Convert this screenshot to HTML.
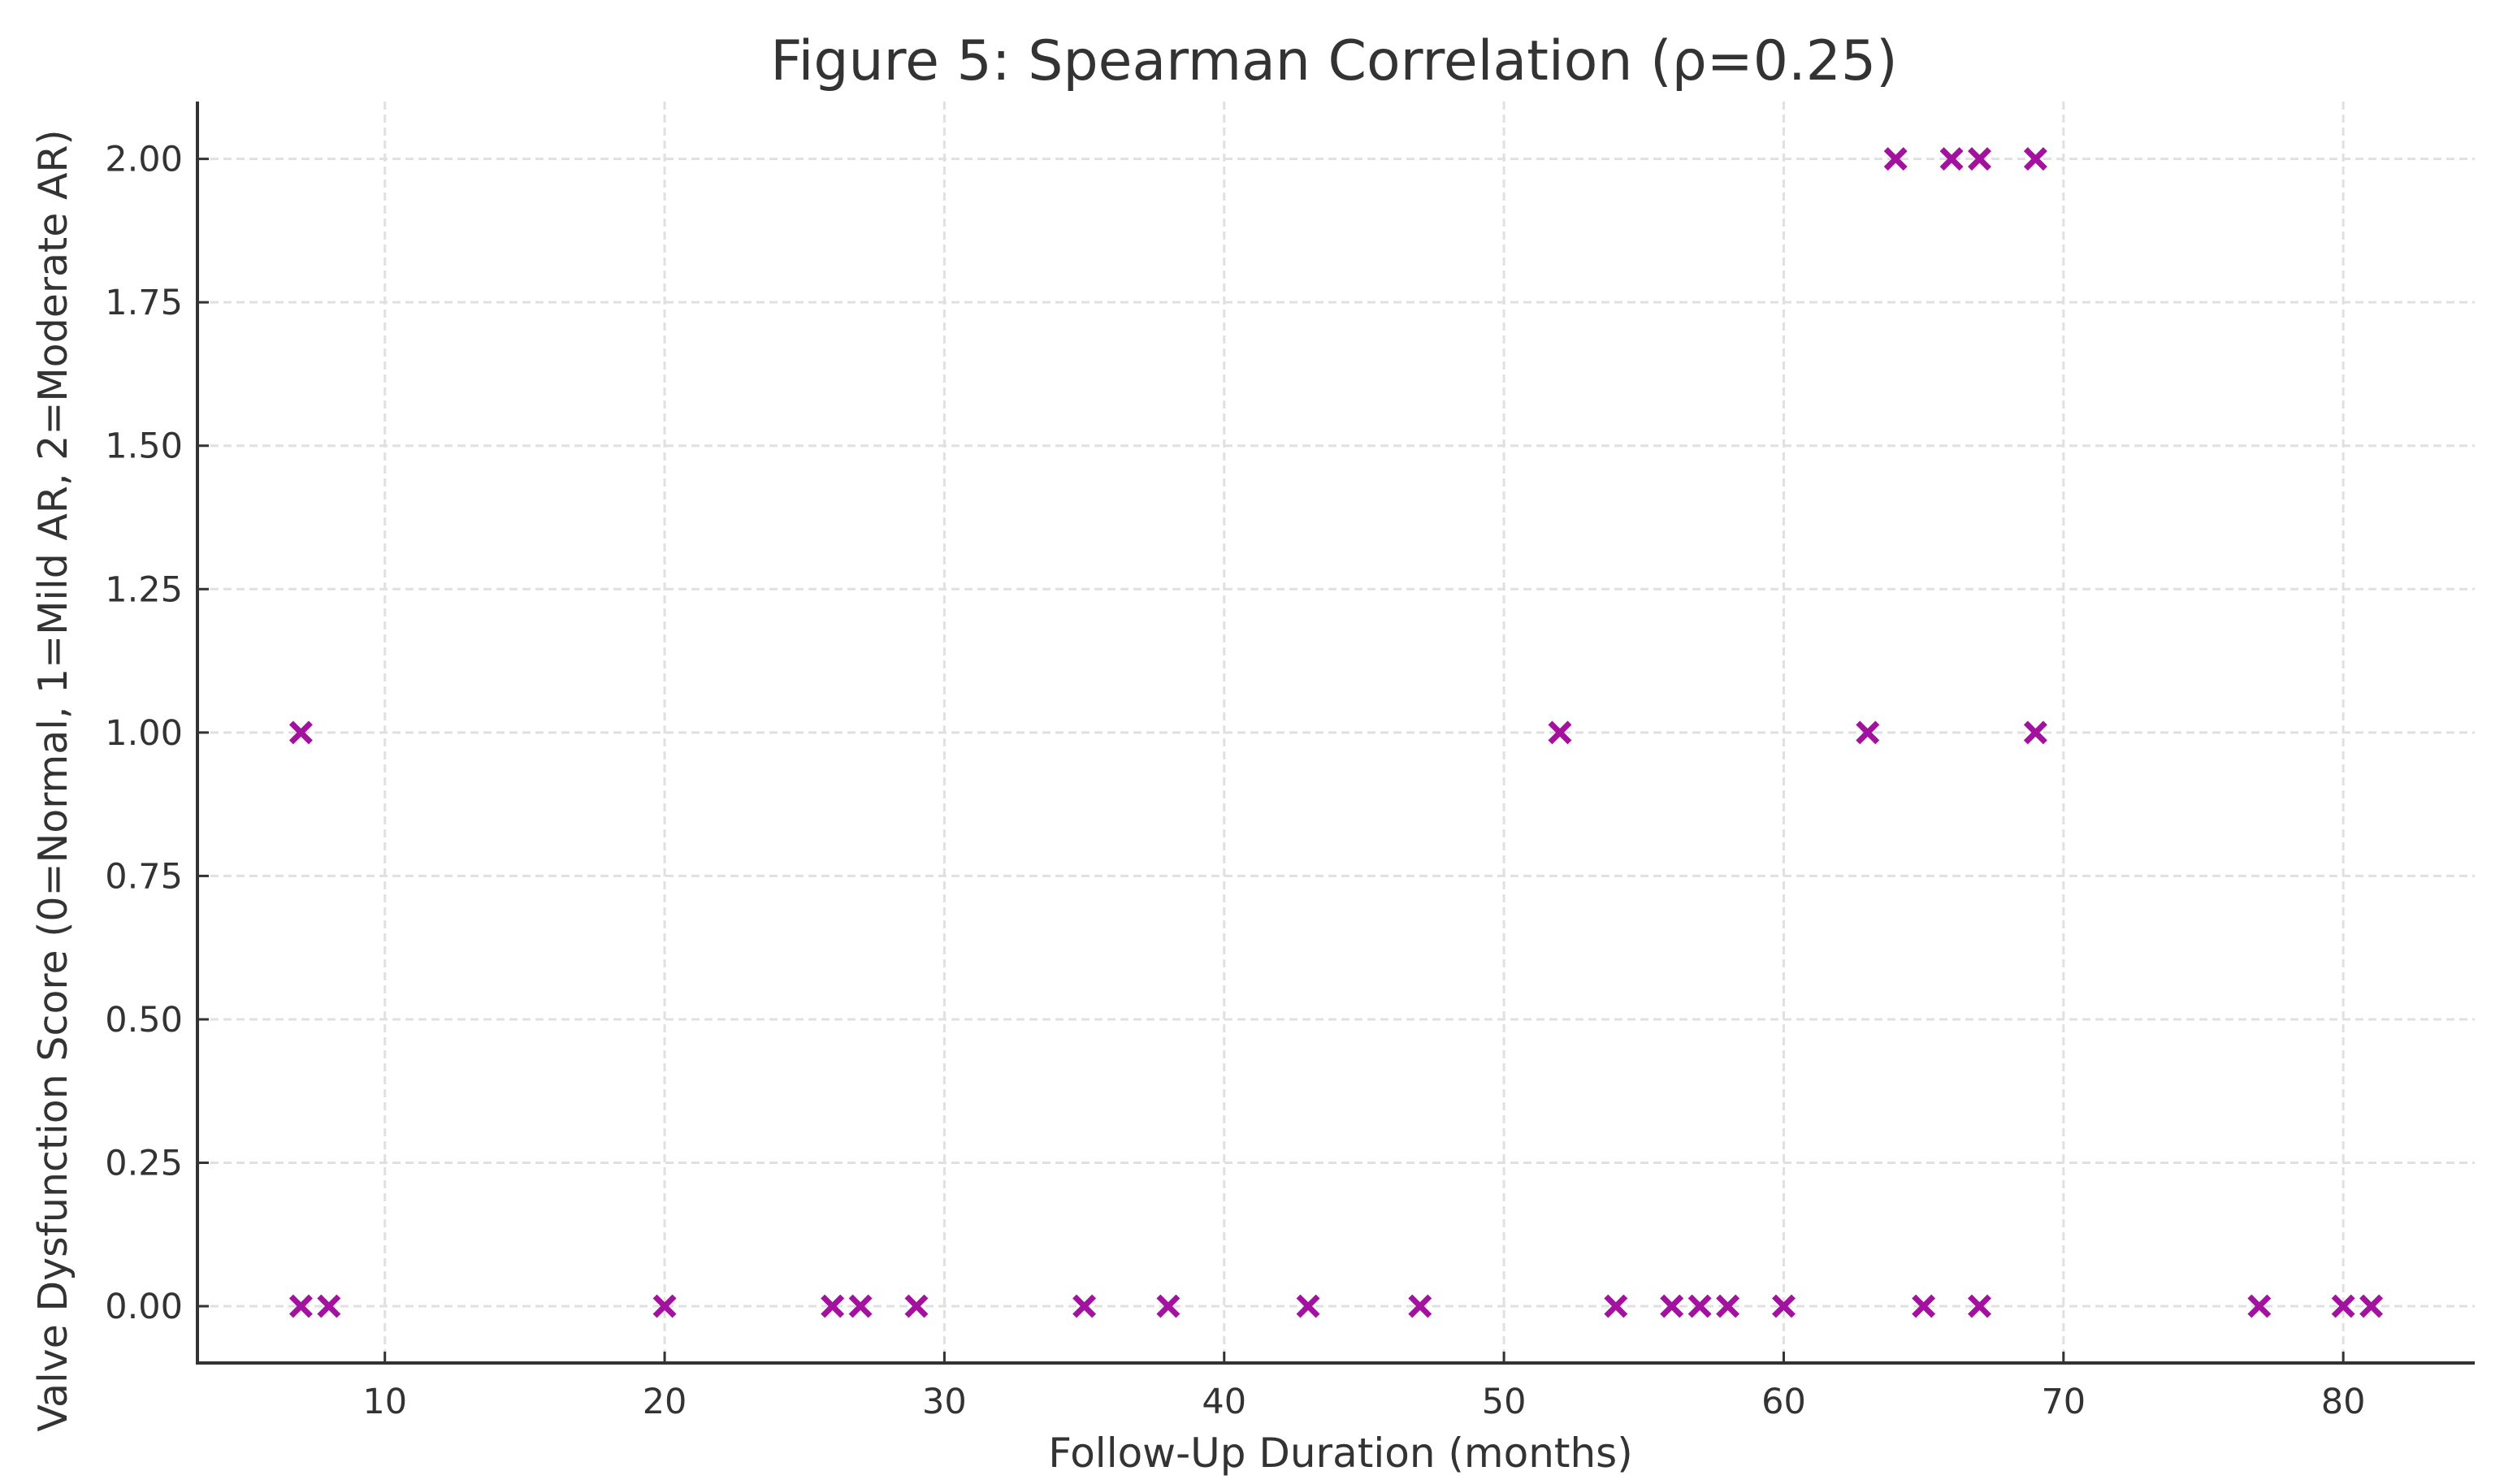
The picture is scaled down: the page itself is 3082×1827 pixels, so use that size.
<!DOCTYPE html>
<html><head><meta charset="utf-8"><style>
html,body{margin:0;padding:0;background:#fff;}
svg{display:block;}
text{font-family:"DejaVu Sans","Liberation Sans",sans-serif;fill:#333;}
</style></head>
<body>
<svg id="chart" width="3082" height="1827" viewBox="0 0 3082 1827">
<rect width="3082" height="1827" fill="#fff"/>
<text x="1642" y="98" font-size="68" text-anchor="middle">Figure 5: Spearman Correlation (ρ=0.25)</text>
<g id="grid"></g>
<g id="marks"></g>
<g id="axes"></g>
<text x="1650" y="1806" font-size="50" text-anchor="middle">Follow-Up Duration (months)</text>
<text transform="translate(82,961) rotate(-90)" font-size="49" text-anchor="middle">Valve Dysfunction Score (0=Normal, 1=Mild AR, 2=Moderate AR)</text>
</svg>
<script>
const months = [7,8,20,26,27,29,35,38,43,47,54,56,57,58,60,65,67,77,80,81,7,52,63,69,64,66,67,69];
const scores = [0,0,0,0,0,0,0,0,0,0,0,0,0,0,0,0,0,0,0,0,1,1,1,1,2,2,2,2];
const xTicks = [10,20,30,40,50,60,70,80];
const yTicks = [0,0.25,0.5,0.75,1.0,1.25,1.5,1.75,2.0];
const xTickLabels = ["10","20","30","40","50","60","70","80"];
const yTickLabels = ["0.00","0.25","0.50","0.75","1.00","1.25","1.50","1.75","2.00"];

const L=243,R=3046,T=125,B=1678;
const xMin=3.3,xMax=84.7,yMin=-0.099,yMax=2.1;
function sx(v){return L+(v-xMin)/(xMax-xMin)*(R-L);}
function sy(v){return B-(v-yMin)/(yMax-yMin)*(B-T);}
const NS="http://www.w3.org/2000/svg";
function mk(tag,attrs,parent){const e=document.createElementNS(NS,tag);for(const k in attrs)e.setAttribute(k,attrs[k]);parent.appendChild(e);return e;}
const grid=document.getElementById('grid'),marks=document.getElementById('marks'),axes=document.getElementById('axes');
xTicks.forEach((t,i)=>{
  const x=sx(t);
  const g=mk('line',{x1:x,x2:x,y1:T,y2:B,stroke:'#e0e0e0','stroke-width':3,'stroke-dasharray':'10,6'},grid);
  
  
  const tk=mk('line',{x1:x,x2:x,y1:B-14,y2:B,stroke:'#333','stroke-width':3},axes);
  
  
  const lb=mk('text',{x:x,y:B+62,'font-size':43,'text-anchor':'middle'},axes);
  lb.textContent=xTickLabels[i];
  
  
});
yTicks.forEach((t,i)=>{
  const y=sy(t);
  const g=mk('line',{x1:L,x2:R,y1:y,y2:y,stroke:'#e0e0e0','stroke-width':3,'stroke-dasharray':'10,6'},grid);
  
  
  const tk=mk('line',{x1:L,x2:L+14,y1:y,y2:y,stroke:'#333','stroke-width':3},axes);
  
  
  const lb=mk('text',{x:L-18,y:y+15,'font-size':43,'text-anchor':'end'},axes);
  lb.textContent=yTickLabels[i];
  
  
});
const sp1=mk('line',{x1:L,x2:L,y1:T,y2:B,stroke:'#333','stroke-width':4},axes);


const sp2=mk('line',{x1:L-2,x2:R,y1:B,y2:B,stroke:'#333','stroke-width':4},axes);


months.forEach((m,i)=>{
  const x=sx(m),y=sy(scores[i]),h=12;
  const p=mk('path',{d:`M${x-h},${y-h}L${x+h},${y+h}M${x-h},${y+h}L${x+h},${y-h}`,stroke:'#a3129f','stroke-width':7},marks);
  
  
});
</script>
</body></html>
